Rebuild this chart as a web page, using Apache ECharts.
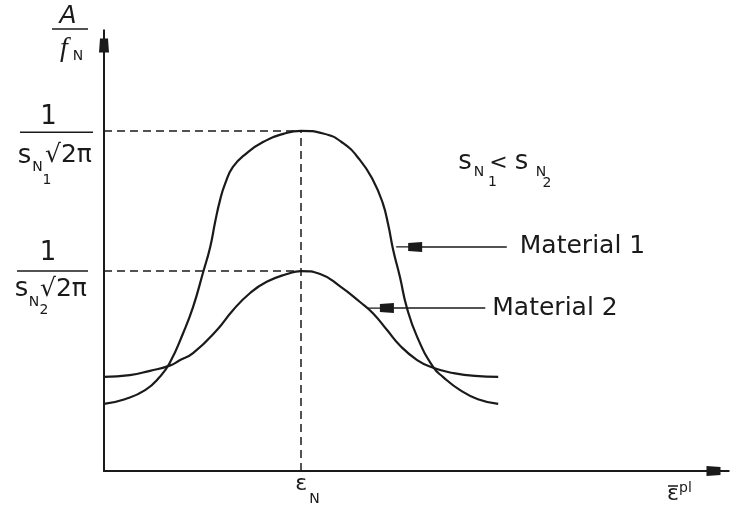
<!DOCTYPE html>
<html><head><meta charset="utf-8">
<script src="https://cdn.jsdelivr.net/npm/echarts@6/dist/echarts.min.js"></script>
<style>html,body{margin:0;padding:0;background:#fff}#c{width:730px;height:516px}</style>
</head><body><div id="c"></div>
<script>
// ---- data (arbitrary units) ----
const material1X = [0, 3.4, 6.7, 9.1, 10.7, 12.9, 14.5, 16.1, 17.3, 18.1, 18.9, 19.7, 21.0, 23.3, 25.9, 29.2, 32.1, 35.7, 38.9, 41.7, 43.8, 45.4, 46.3, 47.1, 48.2, 49.3, 51.0, 53.6, 55.2, 58.0, 60.9, 64.2];
const material1Y = [15.6, 16.7, 18.8, 21.9, 25.1, 32.1, 38.1, 46.0, 52.1, 57.9, 63.0, 66.7, 70.7, 74.0, 76.5, 78.4, 79.1, 78.5, 76.3, 72.3, 67.7, 62.3, 57.2, 51.4, 45.1, 38.1, 31.2, 24.2, 21.9, 18.8, 16.7, 15.6];
const material2X = [0, 4.2, 7.5, 10.7, 12.4, 14.5, 18.4, 21.0, 23.8, 26.5, 29.8, 32.1, 35.2, 38.4, 41.7, 43.8, 46.1, 48.2, 51.0, 53.6, 56.8, 60.4, 64.2];
const material2Y = [21.9, 22.3, 23.3, 24.5, 25.8, 27.4, 32.8, 37.4, 41.4, 44.0, 45.8, 46.5, 45.8, 43.0, 39.3, 36.7, 32.8, 29.2, 25.8, 24.0, 22.8, 22.1, 21.9];
const seriesNames = ['Material 1', 'Material 2'];
const peakX = 32.1;          // epsilon_N
const peak1 = 79.1;          // 1/(s_N1 sqrt(2pi))
const peak2 = 46.5;          // 1/(s_N2 sqrt(2pi))
// pointer lines: [pin centre x, y, end x]
const pointer1 = [49.7, 52.1, 65.6];
const pointer2 = [45.1, 37.9, 62.1];

const INK = '#1a1a1a';
const SANS = '"DejaVu Sans", sans-serif';
const pin = 'path://M4,0L6,0L6,9L9,9L10,23L0,23L1,9L4,9Z';
const pinPointer = 'path://M4.4,0L5.6,0L5.6,12L9,12L10,26L0,26L1,12L4.4,12Z';

const zip = (xs, ys) => xs.map((x, i) => [x, ys[i]]);
const axisCommon = {
  type: 'value', min: 0, max: 100,
  axisLine: { show: true, onZero: false, symbol: ['none', pin], symbolSize: [13, 23],
    lineStyle: { color: INK, width: 2 } },
  axisTick: { show: false }, axisLabel: { show: false }, splitLine: { show: false }
};
const dash = { type: [8, 5], width: 1.5, color: INK };
const ptrLabel = (d) => ({ show: true, position: 'end', distance: d, color: INK,
  fontFamily: SANS, fontSize: 25 });

const chart = echarts.init(document.getElementById('c'));
chart.setOption({
  animation: false,
  grid: { left: 104, right: 12, top: 41, bottom: 45 },
  xAxis: axisCommon,
  yAxis: axisCommon,
  series: [
    { name: seriesNames[0], type: 'line', data: zip(material1X, material1Y), smooth: 0.5,
      showSymbol: false, lineStyle: { color: INK, width: 2.2 },
      markLine: { silent: true, symbol: ['none', 'none'], label: { show: false },
        data: [
          [{ coord: [0, peak1], lineStyle: dash }, { coord: [peakX, peak1] }],
          [{ coord: [0, peak2], lineStyle: dash }, { coord: [peakX, peak2] }],
          [{ coord: [peakX, 0], lineStyle: dash }, { coord: [peakX, peak1] }],
          [{ coord: [pointer1[0], pointer1[1]], symbol: pinPointer, symbolSize: [10, 26],
             lineStyle: { type: 'solid', width: 1.5, color: INK }, label: ptrLabel(13),
             name: seriesNames[0] },
           { coord: [pointer1[2], pointer1[1]] }]
        ] } },
    { name: seriesNames[1], type: 'line', data: zip(material2X, material2Y), smooth: 0.5,
      showSymbol: false, lineStyle: { color: INK, width: 2.2 },
      markLine: { silent: true, symbol: ['none', 'none'],
        data: [
          [{ coord: [pointer2[0], pointer2[1]], symbol: pinPointer, symbolSize: [10, 26],
             lineStyle: { type: 'solid', width: 1.5, color: INK }, label: ptrLabel(7),
             name: seriesNames[1] },
           { coord: [pointer2[2], pointer2[1]] }]
        ] } }
  ]
});

// ---- text annotations anchored to the scales ----
const P = (x, y) => chart.convertToPixel({ gridIndex: 0 }, [x, y]);
const t = (x, y, text, size, extra) => Object.assign({ type: 'text', x, y, silent: true,
  style: Object.assign({ text, fill: INK, fontSize: size, fontFamily: SANS,
    align: 'center', verticalAlign: 'middle' }, extra || {}) });
const bar = (x1, x2, y) => ({ type: 'line', silent: true, shape: { x1, y1: y, x2, y2: y },
  style: { stroke: INK, lineWidth: 1.5 } });

const o = P(0, 0), t1 = P(0, peak1), t2 = P(0, peak2), en = P(peakX, 0);
const ax = o[0];
const els = [];
// y-axis title A / f_N
els.push(t(ax - 36, 16, 'A', 25, { fontStyle: 'italic' }));
els.push(bar(ax - 52, ax - 16, 29));
els.push(t(ax - 40, 49, 'f', 28, { fontStyle: 'italic', fontFamily: '"Liberation Serif", serif' }));
els.push(t(ax - 26, 56, 'N', 14));
// tick label 1
els.push(t(ax - 55.5, t1[1] - 14, '1', 26));
els.push(bar(ax - 84, ax - 11, t1[1] + 1.3));
els.push(t(ax - 79.5, t1[1] + 25, 's', 26));
els.push(t(ax - 66.5, t1[1] + 36, 'N', 14));
els.push(t(ax - 57, t1[1] + 49, '1', 14));
els.push(t(ax - 59, t1[1] + 25, '√2π', 25, { align: 'left' }));
// tick label 2
els.push(t(ax - 56, t2[1] - 18, '1', 26));
els.push(bar(ax - 87, ax - 16, t2[1]));
els.push(t(ax - 82.5, t2[1] + 18, 's', 26));
els.push(t(ax - 70, t2[1] + 31, 'N', 14));
els.push(t(ax - 60, t2[1] + 39, '2', 14));
els.push(t(ax - 64, t2[1] + 18, '√2π', 25, { align: 'left' }));
// epsilon_N
els.push(t(en[0], en[1] + 13, 'ε', 22));
els.push(t(en[0] + 13.5, en[1] + 28, 'N', 14));
// x-axis title  eps-bar ^ pl
els.push(t(673, 494, 'ε', 22));
els.push(bar(668, 678, 486));
els.push(t(679, 488, 'pl', 14, { align: 'left' }));
// s_N1 < s_N2
els.push(t(465, 162.5, 's', 26));
els.push(t(479, 172, 'N', 14));
els.push(t(492.5, 182.5, '1', 14));
els.push(t(498.5, 163.5, '<', 22));
els.push(t(521.5, 162.5, 's', 26));
els.push(t(541, 172, 'N', 14));
els.push(t(547, 183, '2', 14));
chart.setOption({ graphic: { elements: els } });
</script></body></html>
